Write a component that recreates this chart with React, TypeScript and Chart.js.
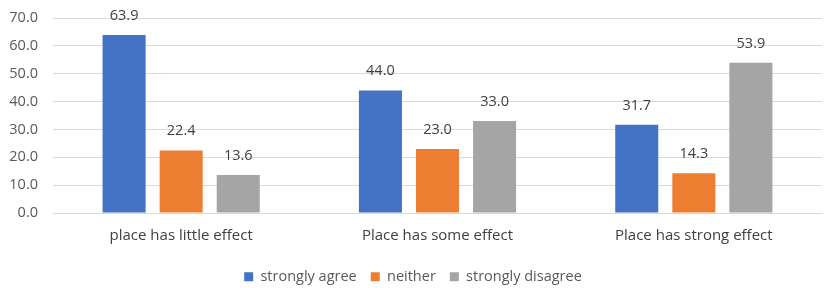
import React, { useEffect, useRef } from "react";
import { Chart, registerables } from "chart.js";

Chart.register(...registerables);

const categories = ["place has little effect", "Place has some effect", "Place has strong effect"];
const stronglyAgree = [63.9, 44.0, 31.7];
const neither = [22.4, 23.0, 14.3];
const stronglyDisagree = [13.6, 33.0, 53.9];
const seriesNames = ["strongly agree", "neither", "strongly disagree"];
const colors = ["#4472C4", "#ED7D31", "#A5A5A5"];

const FONT = "'Open Sans', 'Noto Sans', sans-serif";

const valueLabels = {
  id: "valueLabels",
  afterDatasetsDraw(chart: any) {
    const ctx = chart.ctx;
    ctx.save();
    ctx.font = `14.5px ${FONT}`;
    ctx.fillStyle = "#404040";
    ctx.textAlign = "center";
    ctx.textBaseline = "bottom";
    chart.data.datasets.forEach((ds: any, i: number) => {
      const meta = chart.getDatasetMeta(i);
      meta.data.forEach((el: any, j: number) => {
        ctx.fillText(Number(ds.data[j]).toFixed(1), el.x, el.y - 12);
      });
    });
    ctx.restore();
  },
};

export default function App() {
  const ref = useRef<HTMLCanvasElement>(null);
  useEffect(() => {
    document.body.style.margin = "0";
    const chart = new Chart(ref.current!, {
      type: "bar",
      data: {
        labels: categories,
        datasets: [stronglyAgree, neither, stronglyDisagree].map((d, i) => ({
          label: seriesNames[i],
          data: d,
          backgroundColor: colors[i],
          categoryPercentage: 0.668,
          barPercentage: 0.754,
        })),
      },
      options: {
        animation: false,
        responsive: false,
        layout: { padding: { left: 4, right: 7, top: 18, bottom: -6 } },
        plugins: {
          legend: {
            position: "bottom",
            labels: {
              boxWidth: 9,
              boxHeight: 9,
              padding: 14,
              color: "#595959",
              font: { family: FONT, size: 14.5 },
            },
          },
          tooltip: { enabled: false },
        },
        scales: {
          x: {
            grid: { display: false, drawTicks: false },
            border: { color: "#d9d9d9" },
            ticks: { color: "#404040", font: { family: FONT, size: 15 }, padding: 14 },
            afterFit: (s: any) => { s.height = 42.5; },
          },
          y: {
            min: 0,
            max: 70,
            ticks: {
              stepSize: 10,
              color: "#595959",
              font: { family: FONT, size: 14.5 },
              padding: 3,
              callback: (v: any) => Number(v).toFixed(1),
            },
            grid: { color: "#d9d9d9", drawTicks: true, tickLength: 12, tickColor: "rgba(0,0,0,0)" },
            border: { display: false },
            afterFit: (s: any) => { s.width = 49; },
          },
        },
      },
      plugins: [valueLabels],
    });
    return () => chart.destroy();
  }, []);
  return <canvas ref={ref} width={829} height={288} />;
}
